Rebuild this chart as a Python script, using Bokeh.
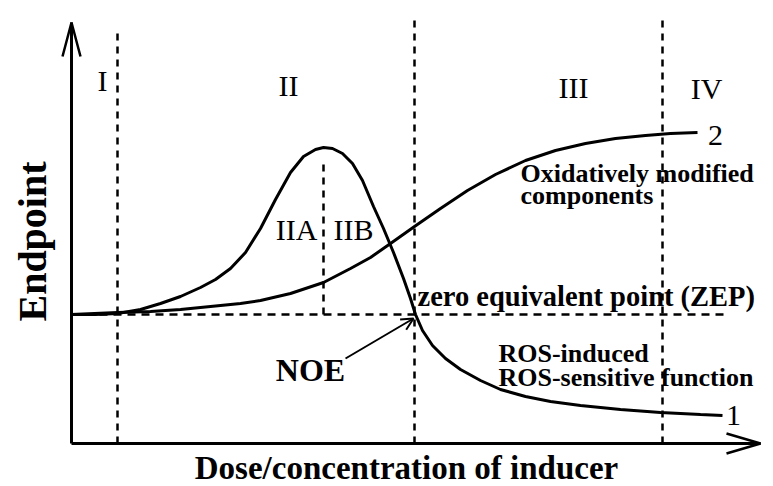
from bokeh.plotting import figure
from bokeh.models import Range1d, Label, Arrow, OpenHead
from bokeh.embed import file_html
from bokeh.resources import INLINE

# ---- data (dose units along x, endpoint units along y) ----
dose_1 = [0, 24, 46, 69, 89, 109, 129, 144, 159, 174, 189, 204, 219, 232, 244, 252,
          261, 271, 281, 291, 302, 312, 322, 332, 339, 344, 351, 361, 374, 389, 409,
          429, 454, 479, 509, 549, 589, 629, 651]
ros_sensitive = [129, 129, 130, 134, 140, 147, 156, 164, 175, 191, 215, 244, 271, 287,
                 294, 296, 295, 290, 280, 263, 237, 215, 191, 165, 145, 129, 113, 98,
                 85, 74, 63, 54, 47, 42, 38, 34, 31, 29, 28]

dose_2 = [0, 46, 79, 109, 139, 169, 189, 219, 252, 279, 299, 319, 343, 369, 396, 424,
          454, 484, 514, 544, 574, 599, 626]
oxidized = [129, 131, 132, 134, 137, 140, 143, 150, 161, 175, 186, 200, 217, 235, 253,
            269, 283, 293, 300, 305, 308, 310, 311]

region_bounds = [46, 343, 591]
region_tops = [415, 428, 429]
region_names = ["I", "II", "III", "IV"]
peak_dose = 252
peak_level = 283
zep_level = 129
zep_end = 657
x_axis_end = 689
y_axis_end = 421

FONT = "Liberation Serif"

p = figure(width=773, height=486, output_backend="svg", toolbar_location=None,
           x_range=Range1d(-71, 702), y_range=Range1d(-43, 443),
           x_axis_location=None, y_axis_location=None,
           min_border=0, min_border_left=0, min_border_right=0,
           min_border_top=0, min_border_bottom=0)
p.grid.visible = False
p.outline_line_color = None
p.background_fill_color = "white"
p.border_fill_color = "white"

# axes with open arrow heads
p.line([0, 0], [0, y_axis_end], line_color="black", line_width=3)
p.line([0, x_axis_end], [0, 0], line_color="black", line_width=3)
head_len, head_half = 34, 9
p.line([-head_half, 0, head_half], [y_axis_end - head_len, y_axis_end, y_axis_end - head_len],
       line_color="black", line_width=2.5)
p.line([x_axis_end - head_len, x_axis_end, x_axis_end - head_len], [head_half + 1, 0, -head_half - 1],
       line_color="black", line_width=2.5)

# region boundaries
for xb, top in zip(region_bounds, region_tops):
    p.line([xb, xb], [0, top], line_color="black", line_width=2.5, line_dash="7 6")
p.line([peak_dose, peak_dose], [zep_level, peak_level], line_color="black", line_width=2.5, line_dash="7 6")
p.line([0, zep_end], [zep_level, zep_level], line_color="black", line_width=2.5, line_dash="8 6")

# curves
p.line(dose_1, ros_sensitive, line_color="black", line_width=3)
p.line(dose_2, oxidized, line_color="black", line_width=3)

def lab(x, y, text, size, bold=False, align="left", angle=0.0):
    p.add_layout(Label(x=x, y=y, text=text, text_font=FONT, text_font_size=f"{size}px",
                       text_font_style="bold" if bold else "normal", text_color="black",
                       text_align=align, text_baseline="middle", angle=angle))

# region labels
lab(31, 363, region_names[0], 30, align="center")
lab(217, 358, region_names[1], 30, align="center")
lab(502, 356, region_names[2], 30, align="center")
lab(635, 355, region_names[3], 30, align="center")
lab(225, 214, "IIA", 30, align="center")
lab(282, 214, "IIB", 30, align="center")

# curve labels
lab(dose_2[-1] + 18, oxidized[-1] - 3, "2", 30, align="center")
lab(dose_1[-1] + 11, ros_sensitive[-1], "1", 30, align="center")

lab(449, 270, "Oxidatively modified", 26, bold=True)
lab(449, 248, "components", 26, bold=True)
lab(346, 147, "zero equivalent point (ZEP)", 28.5, bold=True)
lab(427, 90, "ROS-induced", 26, bold=True)
lab(427, 66, "ROS-sensitive function", 26, bold=True)
lab(239, 74, "NOE", 32, bold=True, align="center")

p.add_layout(Arrow(x_start=274, y_start=85, x_end=342, y_end=125, line_color="black", line_width=2,
                   end=OpenHead(size=12, line_width=2, line_color="black")))

# axis titles
lab(-39, 202, "Endpoint", 40, bold=True, align="center", angle=1.5707963)
lab(335, -24, "Dose/concentration of inducer", 33, bold=True, align="center")

open("out.html", "w").write(file_html(p, INLINE))
